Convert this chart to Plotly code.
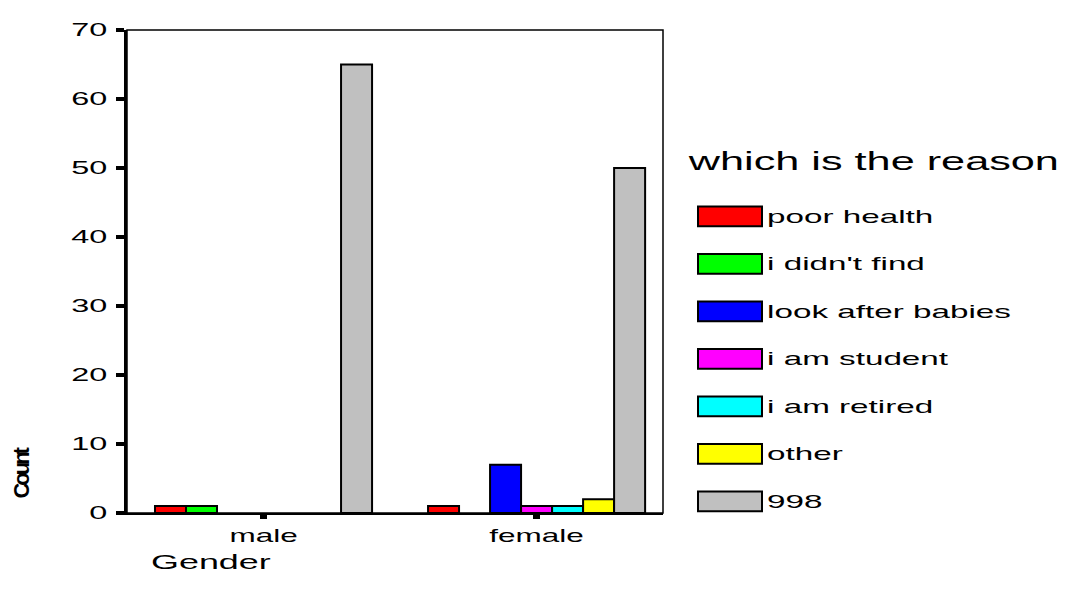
import json
import plotly.graph_objects as go

categories = ["male", "female"]
reasons = ["poor health", "i didn't find", "look after babies", "i am student",
           "i am retired", "other", "998"]
colors = ["#FF0000", "#00FF00", "#0000FF", "#FF00FF", "#00FFFF", "#FFFF00", "#C0C0C0"]
# counts per reason: [male, female]; None = no bar
counts = {
    "poor health": [1, 1],
    "i didn't find": [1, None],
    "look after babies": [None, 7],
    "i am student": [None, 1],
    "i am retired": [None, 1],
    "other": [None, 2],
    "998": [65, 50],
}
y_ticks = [0, 10, 20, 30, 40, 50, 60, 70]
legend_title = "which is the reason"
x_title = "Gender"
y_title = "Count"

FONT = "Liberation Sans, Arial, sans-serif"

fig = go.Figure()
for name, col in zip(reasons, colors):
    fig.add_trace(go.Bar(
        x=categories, y=counts[name], name=name,
        marker=dict(color=col, line=dict(color="black", width=2)),
        showlegend=False,
    ))

# page has an 8px body margin
OFF = 8
W, H = 1069 - OFF, 595 - 2 * OFF
# plot area in screen pixels
SL, SR, ST, SB = 127, 663, 23, 513
L, R, T, B = SL - OFF, SR - OFF, ST - OFF, SB - OFF

fig.update_layout(
    width=W, height=H,
    barmode="group", bargap=0.205, bargroupgap=0,
    plot_bgcolor="white", paper_bgcolor="white",
    margin=dict(l=L, r=W - R, t=T, b=H - B, pad=0),
    font=dict(family=FONT, color="black", size=18),
    xaxis=dict(range=[-0.5, 1.463], showgrid=False, zeroline=False,
               showline=True, linecolor="black", linewidth=2,
               ticks="outside", ticklen=4, tickwidth=7, tickcolor="black",
               ticklabelstandoff=1,
               tickfont=dict(size=18)),
    yaxis=dict(range=[0, 70], tickvals=y_ticks,
               showgrid=False, zeroline=False,
               showline=True, linecolor="black", linewidth=3,
               ticks="outside", ticklen=8, tickwidth=4, tickcolor="black",
               ticklabelstandoff=5,
               tickfont=dict(size=18)),
)

# thin frame for top/right
fig.add_shape(type="rect", xref="paper", yref="paper", x0=0, x1=1, y0=0, y1=1,
              line=dict(color="black", width=1.5), layer="above")


def px(sx):
    return (sx - SL) / (SR - SL)


def py(sy):
    return (SB - sy) / (SB - ST)


annotations = []
stretch = []  # horizontal stretch factor per annotation (SPSS-like wide text)

annotations.append(dict(text="<b><span style='letter-spacing:-3px'>" + y_title + "</span></b>",
                        xref="paper", yref="paper", x=px(22), y=py(472),
                        xanchor="center", yanchor="middle", showarrow=False,
                        textangle=-90, font=dict(size=22, family=FONT)))
stretch.append(1.0)
annotations.append(dict(text=x_title, xref="paper", yref="paper",
                        x=px(149), y=py(562),
                        xanchor="left", yanchor="middle", showarrow=False,
                        font=dict(size=21, family=FONT)))
stretch.append(1.71)
annotations.append(dict(text=legend_title, xref="paper", yref="paper",
                        x=px(685), y=py(156),
                        xanchor="left", yanchor="middle", showarrow=False,
                        font=dict(size=25, family=FONT)))
stretch.append(1.73)

y0 = 212
step = 48.2
for i, (name, col) in enumerate(zip(reasons, colors)):
    cy = y0 + i * step
    fig.add_shape(type="rect", xref="paper", yref="paper",
                  x0=px(698), x1=px(762),
                  y0=py(cy + 10), y1=py(cy - 10),
                  fillcolor=col, line=dict(color="black", width=2))
    annotations.append(dict(text=name, xref="paper", yref="paper",
                            x=px(765), y=py(cy),
                            xanchor="left", yanchor="middle", showarrow=False,
                            font=dict(size=19, family=FONT)))
    stretch.append(1.75)

fig.update_layout(annotations=annotations)

post = """
var gd = document.getElementById('{plot_id}');
function widen(t, k, mode) {
  if (k === 1) return;
  var b = t.getBBox();
  var ax = mode === 'left' ? b.x : (mode === 'right' ? b.x + b.width : b.x + b.width / 2);
  var tr = t.getAttribute('transform') || '';
  t.setAttribute('transform', tr + ' translate(' + ax + ',0) scale(' + k + ',1) translate(' + (-ax) + ',0)');
}
gd.querySelectorAll('.ytick text').forEach(function(t) { widen(t, 1.8, 'right'); });
gd.querySelectorAll('.xtick text').forEach(function(t) { widen(t, 1.75, 'middle'); });
var ks = STRETCH;
ks.forEach(function(k, i) {
  var t = gd.querySelector('.annotation[data-index="' + i + '"] text.annotation-text');
  if (t) widen(t, k, 'left');
});
""".replace("STRETCH", json.dumps(stretch))

fig.write_html("out.html", post_script=post)
